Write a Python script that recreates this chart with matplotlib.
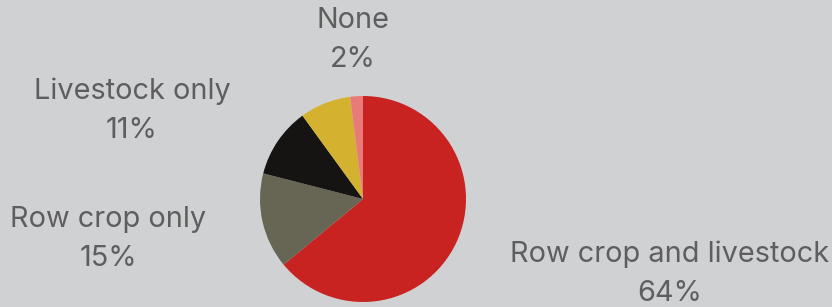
import matplotlib
matplotlib.use("Agg")
import matplotlib.pyplot as plt

# slices, clockwise from 12 o'clock
categories = ["Row crop and livestock", "Row crop only", "Livestock only", "", "None"]
values = [64, 15, 11, 8, 2]
pct_labels = ["64%", "15%", "11%", "", "2%"]
colors = ["#c82320", "#676553", "#151412", "#d4b22f", "#e87b78"]

# label anchors (pixel coords, y from top): centre x, baseline of first line
label_pos = {
    "Row crop and livestock": (670, 262),
    "Row crop only": (108, 227),
    "Livestock only": (132, 99),
    "None": (353, 28),
}

W, H = 832, 307
bg = "#d0d1d3"
txt_color = "#5e5e5e"
font = ["Inter", "DejaVu Sans"]

fig = plt.figure(figsize=(W / 100, H / 100), dpi=100, facecolor=bg)
ax = fig.add_axes([0, 0, 1, 1])
ax.set_facecolor(bg)

ax.pie(values, colors=colors, startangle=90, counterclock=False,
       center=(363, H - 199), radius=103, frame=True,
       wedgeprops=dict(linewidth=0))
ax.set_xlim(0, W)
ax.set_ylim(0, H)
ax.set_aspect("equal")
ax.axis("off")

for name, pct in zip(categories, pct_labels):
    if not name:
        continue
    x, y = label_pos[name]
    ax.text(x, H - y, name, ha="center", va="baseline", fontsize=20.8,
            color=txt_color, family=font)
    ax.text(x, H - y - 39, pct, ha="center", va="baseline", fontsize=20.8,
            color=txt_color, family=font)

fig.savefig("out.png", dpi=100, facecolor=bg)
